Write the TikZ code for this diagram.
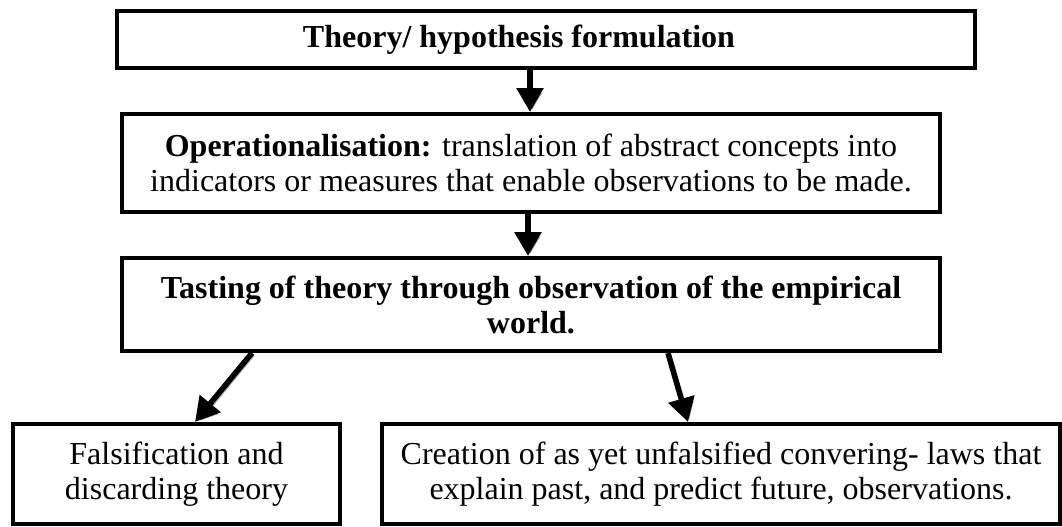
\documentclass[tikz,border=0pt]{standalone}
\usepackage{fontspec}
\setmainfont{Liberation Serif}
\usetikzlibrary{arrows.meta, positioning}

\begin{document}
\begin{tikzpicture}[
  x=0.5pt, y=-0.5pt,
  box/.style={rectangle, draw=black, line width=2pt, align=center,
             inner sep=0pt, font=\fontsize{16}{17.5}\selectfont},
  boldbox/.style={box, font=\fontsize{16}{17.5}\selectfont\bfseries},
  arrow/.style={-{Triangle[length=12pt, width=13pt]}, line width=2.8pt,
             preaction={draw=black!35, -{Triangle[length=12pt, width=13pt]},
                        transform canvas={shift={(1.2pt,-1.2pt)}}}}
]

\useasboundingbox (0,0) rectangle (1062,526);

% main chain
\node[box, minimum width=429pt, minimum height=28.5pt] (theory) at (546,39.5) {};
\node[font=\fontsize{16}{17.5}\selectfont\bfseries] (theorytext) at (519,40) {Theory/ hypothesis formulation};
\node[box, minimum width=409pt, minimum height=49pt] (operational) at (531,163) {%
  \textbf{Operationalisation:} translation of abstract concepts into\\
  indicators or measures that enable observations to be made.};
\node[boldbox, minimum width=409pt, minimum height=46.5pt] (testing) at (531,304.5) {%
  Tasting of theory through observation of the empirical\\
  world.};

% outcomes
\node[box, minimum width=163.5pt, minimum height=50pt] (falsify) at (176.5,474) {%
  Falsification and\\ discarding theory};
\node[box, minimum width=339pt, minimum height=50pt] (laws) at (721,474) {%
  Creation of as yet unfalsified convering- laws that\\
  explain past, and predict future, observations.};

\draw[arrow] ([xshift=-8pt]theory.south) -- ([xshift=-0.5pt]operational.north);
\draw[arrow] ([xshift=-1.5pt]operational.south) -- ([xshift=-1.5pt]testing.north);
\draw[arrow] ([xshift=-139.5pt]testing.south) -- ([xshift=9.25pt]falsify.north);
\draw[arrow] ([xshift=68.5pt]testing.south) -- ([xshift=-16.5pt]laws.north);

\end{tikzpicture}
\end{document}
